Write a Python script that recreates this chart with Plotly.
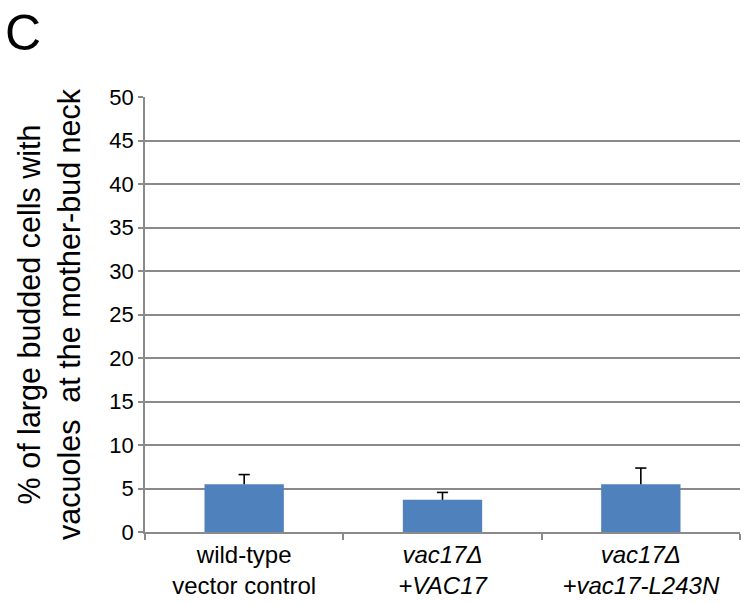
import plotly.graph_objects as go

# Strains and measured percentages (mean + upper error)
categories = [
    "wild-type<br>vector control",
    "<i>vac17Δ</i><br><i>+VAC17</i>",
    "<i>vac17Δ</i><br><i>+vac17-L243N</i>",
]
percent_values = [5.5, 3.7, 5.5]
error_upper = [1.1, 0.85, 1.85]
y_ticks = [0, 5, 10, 15, 20, 25, 30, 35, 40, 45, 50]

BAR_COLOR = "#4F81BD"
GRID_COLOR = "#8A8A8A"
FONT = "Liberation Sans, Arial, sans-serif"

fig = go.Figure()

fig.add_trace(
    go.Bar(
        x=categories,
        y=percent_values,
        marker=dict(color=BAR_COLOR, line=dict(width=0)),
        hoverinfo="skip",
    )
)

# One-sided (upper) error bars: stem from bar top to mean + error, with a cap
stem_x, stem_y = [], []
for cat, val, err in zip(categories, percent_values, error_upper):
    stem_x += [cat, cat, None]
    stem_y += [val, val + err, None]

fig.add_trace(
    go.Scatter(
        x=stem_x,
        y=stem_y,
        mode="lines",
        line=dict(color="#000000", width=1.6),
        hoverinfo="skip",
    )
)
fig.add_trace(
    go.Scatter(
        x=categories,
        y=[v + e for v, e in zip(percent_values, error_upper)],
        mode="markers",
        marker=dict(
            symbol="line-ew-open",
            size=8,
            color="#000000",
            line=dict(color="#000000", width=1.6),
        ),
        hoverinfo="skip",
    )
)

fig.update_layout(
    width=751,
    height=604,
    margin=dict(l=145, r=11, t=97, b=72),
    paper_bgcolor="white",
    plot_bgcolor="white",
    bargap=0.6,
    showlegend=False,
    font=dict(family=FONT, color="#000000"),
)

fig.update_xaxes(
    type="category",
    automargin=False,
    tickson="boundaries",
    ticks="outside",
    ticklen=6,
    tickwidth=1.5,
    tickcolor=GRID_COLOR,
    showline=True,
    linecolor=GRID_COLOR,
    linewidth=1.5,
    showgrid=False,
    tickfont=dict(size=24, family=FONT, color="#000000"),
)

fig.update_yaxes(
    range=[0, 50],
    tickvals=y_ticks,
    ticks="outside",
    ticklen=5,
    tickwidth=1.5,
    tickcolor=GRID_COLOR,
    showline=True,
    linecolor=GRID_COLOR,
    linewidth=1.5,
    showgrid=True,
    gridcolor=GRID_COLOR,
    gridwidth=1.5,
    zeroline=False,
    tickfont=dict(size=22, family=FONT, color="#000000"),
    title=dict(
        text="% of large budded cells with<br>vacuoles  at the mother-bud neck",
        font=dict(size=30.5, family=FONT, color="#000000"),
        standoff=20,
    ),
)

# Panel letter
fig.add_annotation(
    text="C",
    xref="paper", yref="paper",
    x=-145 / 595, y=1 + 97 / 435,
    xanchor="left", yanchor="top",
    xshift=3, yshift=-3,
    showarrow=False,
    font=dict(size=50, family=FONT, color="#000000"),
)

fig.write_html("out.html")
